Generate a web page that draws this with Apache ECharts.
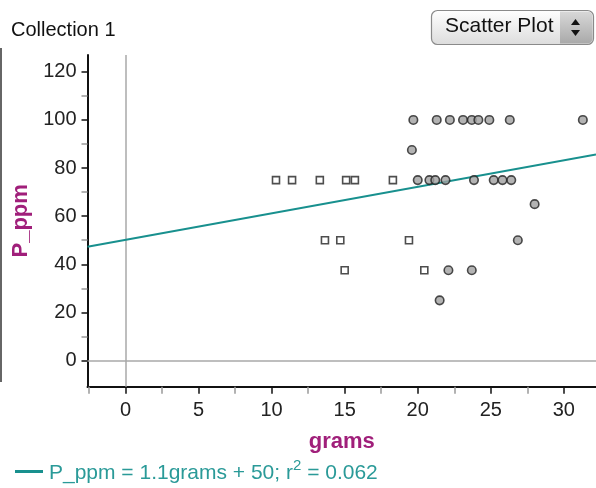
<!DOCTYPE html>
<html><head><meta charset="utf-8">
<script src="https://cdn.jsdelivr.net/npm/echarts@6/dist/echarts.min.js"></script>
<style>html,body{margin:0;padding:0;background:#fff}#c{width:596px;height:488px}</style>
</head><body><div id="c"></div>
<script>
const xTicks = [0, 5, 10, 15, 20, 25, 30];
const xMinorTicks = [-2.5, 2.5, 7.5, 12.5, 17.5, 22.5, 27.5];
const yTicks = [0, 20, 40, 60, 80, 100, 120];
const yMinorTicks = [10, 30, 50, 70, 90, 110];
const squarePoints = [
  [10.3, 75], [11.4, 75], [13.3, 75], [15.1, 75], [15.7, 75], [18.3, 75],
  [13.65, 50], [14.7, 50], [15.0, 37.5], [19.4, 50], [20.45, 37.5]
];
const circlePoints = [
  [19.7, 100], [21.3, 100], [22.2, 100], [23.1, 100], [23.7, 100], [24.15, 100], [24.9, 100], [26.3, 100], [31.3, 100],
  [19.6, 87.5],
  [20.0, 75], [20.8, 75], [21.2, 75], [21.9, 75], [23.85, 75], [25.2, 75], [25.8, 75], [26.4, 75],
  [28.0, 65], [26.85, 50], [22.1, 37.5], [23.7, 37.5], [21.5, 25]
];
const fitLine = [[-2.6, 47.3], [32.2, 85.6]];
const legendText = 'P_ppm = 1.1grams + 50; r';

const chart = echarts.init(document.getElementById('c'), null, {renderer: 'canvas'});
const FONT = 'Liberation Sans, Arial, sans-serif';
const XMIN = -2.6, XMAX = 32.2, YMIN = -10.9, YMAX = 127;
const baseX = {
  type: 'value', min: XMIN, max: XMAX, position: 'bottom',
  splitLine: {show: false}
};
const baseY = {
  type: 'value', min: YMIN, max: YMAX, position: 'left',
  splitLine: {show: false}
};
chart.setOption({
  animation: false,
  grid: {left: 87.5, right: 0, top: 55, bottom: 101.3, containLabel: false},
  xAxis: [
    Object.assign({}, baseX, {
      name: 'grams', nameLocation: 'middle', nameGap: 44,
      nameTextStyle: {color: '#a01f7a', fontSize: 22, fontWeight: 'bold', fontFamily: FONT},
      axisLine: {show: true, onZero: false, lineStyle: {color: '#111', width: 2}},
      axisTick: {show: true, length: 7, customValues: xTicks, lineStyle: {color: '#111', width: 1.5}},
      axisLabel: {show: true, customValues: xTicks, margin: 14, color: '#222', fontSize: 20, fontFamily: FONT}
    }),
    Object.assign({}, baseX, {
      axisLine: {show: false, onZero: false},
      axisTick: {show: true, length: 7, customValues: xMinorTicks, lineStyle: {color: '#999', width: 1.5}},
      axisLabel: {show: false}
    })
  ],
  yAxis: [
    Object.assign({}, baseY, {
      name: 'P_ppm', nameLocation: 'middle', nameGap: 54, nameRotate: 90,
      nameTextStyle: {color: '#a01f7a', fontSize: 22, fontWeight: 'bold', fontFamily: FONT},
      axisLine: {show: true, onZero: false, lineStyle: {color: '#111', width: 2}},
      axisTick: {show: true, length: 6, customValues: yTicks, lineStyle: {color: '#111', width: 1.5}},
      axisLabel: {show: true, customValues: yTicks, margin: 11, color: '#222', fontSize: 20, fontFamily: FONT}
    }),
    Object.assign({}, baseY, {
      axisLine: {show: false, onZero: false},
      axisTick: {show: true, length: 6, customValues: yMinorTicks, lineStyle: {color: '#999', width: 1.5}},
      axisLabel: {show: false}
    })
  ],
  series: [
    {
      type: 'line', data: fitLine, symbol: 'none', silent: true, z: 3,
      lineStyle: {color: '#18908e', width: 2},
      markLine: {
        silent: true, symbol: 'none', label: {show: false},
        lineStyle: {color: '#a8a8a8', width: 1.5, type: 'solid'},
        data: [{xAxis: 0}, {yAxis: 0}], z: 1
      }
    },
    {
      type: 'scatter', data: squarePoints, symbol: 'rect', symbolSize: 7, z: 4,
      itemStyle: {color: '#fff', borderColor: '#222', borderWidth: 1.6}
    },
    {
      type: 'scatter', data: circlePoints, symbol: 'circle', symbolSize: 8.5, z: 4,
      itemStyle: {color: '#a0a0a0', borderColor: '#222', borderWidth: 1.6}
    }
  ],
  graphic: [
    {type: 'line', shape: {x1: 1, y1: 48, x2: 1, y2: 382}, style: {stroke: '#333', lineWidth: 1.5}, silent: true},
    {type: 'text', left: 11, top: 20, style: {text: 'Collection 1', fill: '#111', font: '20px ' + FONT}},
    {type: 'rect', shape: {x: 431.5, y: 10.5, width: 162, height: 34, r: 6},
      style: {fill: new echarts.graphic.LinearGradient(0, 0, 0, 1, [{offset: 0, color: '#ffffff'}, {offset: 1, color: '#dcdcdc'}]), stroke: '#8a8a8a', lineWidth: 1.2}},
    {type: 'rect', shape: {x: 560, y: 11.5, width: 32.5, height: 32, r: [0, 5, 5, 0]},
      style: {fill: new echarts.graphic.LinearGradient(0, 0, 0, 1, [{offset: 0, color: '#d8d8d8'}, {offset: 1, color: '#a9a9a9'}])}},
    {type: 'text', left: 445, top: 16, style: {text: 'Scatter Plot', fill: '#111', font: '21px ' + FONT}},
    {type: 'polygon', shape: {points: [[571, 25], [580, 25], [575.5, 19]]}, style: {fill: '#111'}},
    {type: 'polygon', shape: {points: [[571, 30], [580, 30], [575.5, 36]]}, style: {fill: '#111'}},
    {type: 'line', shape: {x1: 15, y1: 471.5, x2: 43, y2: 471.5}, style: {stroke: '#18908e', lineWidth: 3}},
    {type: 'text', left: 49, top: 458, style: {
      text: '{a|' + legendText + '}{s|2}{a| = 0.062}',
      rich: {
        a: {fill: '#2a9a98', font: '21px ' + FONT, verticalAlign: 'bottom', lineHeight: 26},
        s: {fill: '#2a9a98', font: '15px ' + FONT, verticalAlign: 'top', lineHeight: 26, padding: [0, 0, 12, 0]}
      }
    }}
  ]
});
</script></body></html>
